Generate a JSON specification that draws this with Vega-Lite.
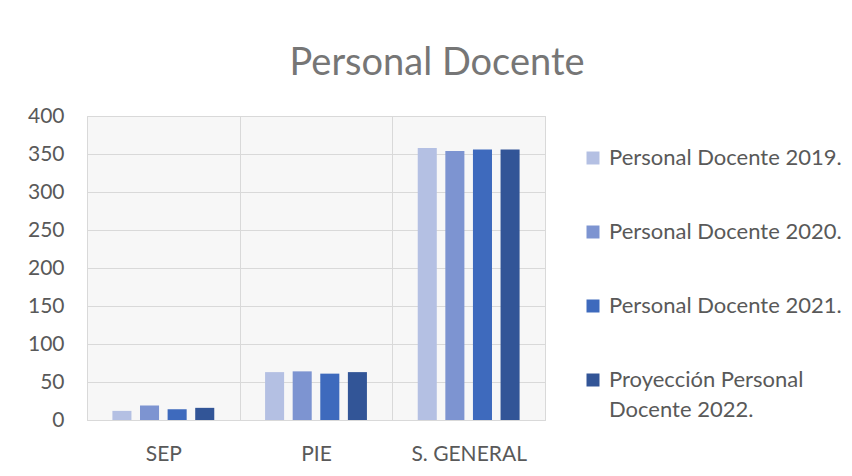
{
  "$schema": "https://vega.github.io/schema/vega-lite/v6.json",
  "width": 458,
  "height": 304,
  "autosize": "none",
  "padding": {"left": 87, "top": 116, "right": 307, "bottom": 56},
  "background": "white",
  "title": {
    "text": "Personal Docente",
    "anchor": "middle",
    "frame": "group",
    "dx": 121,
    "offset": -8,
    "baseline": "alphabetic",
    "font": "Lato",
    "fontSize": 38,
    "fontWeight": "normal",
    "color": "#767676"
  },
  "config": {
    "view": {"stroke": "#d9d9d9", "fill": "#f7f7f7"},
    "font": "Lato",
    "style": {"guide-label": {"lineHeight": 30}}
  },
  "data": {
    "values": [
      {"categoria": "SEP", "serie": "Personal Docente 2019.", "valor": 12},
      {"categoria": "SEP", "serie": "Personal Docente 2020.", "valor": 19},
      {"categoria": "SEP", "serie": "Personal Docente 2021.", "valor": 14},
      {"categoria": "SEP", "serie": "Proyección Personal Docente 2022.", "valor": 16},
      {"categoria": "PIE", "serie": "Personal Docente 2019.", "valor": 63},
      {"categoria": "PIE", "serie": "Personal Docente 2020.", "valor": 64},
      {"categoria": "PIE", "serie": "Personal Docente 2021.", "valor": 61},
      {"categoria": "PIE", "serie": "Proyección Personal Docente 2022.", "valor": 63},
      {"categoria": "S. GENERAL", "serie": "Personal Docente 2019.", "valor": 358},
      {"categoria": "S. GENERAL", "serie": "Personal Docente 2020.", "valor": 354},
      {"categoria": "S. GENERAL", "serie": "Personal Docente 2021.", "valor": 356},
      {"categoria": "S. GENERAL", "serie": "Proyección Personal Docente 2022.", "valor": 356}
    ]
  },
  "mark": {"type": "bar"},
  "encoding": {
    "x": {
      "field": "categoria",
      "type": "nominal",
      "sort": ["SEP", "PIE", "S. GENERAL"],
      "scale": {"paddingInner": 0, "paddingOuter": 0},
      "axis": {
        "title": null,
        "labelAngle": 0,
        "ticks": false,
        "tickBand": "extent",
        "grid": true,
        "gridColor": "#d9d9d9",
        "domainColor": "#d9d9d9",
        "labelFontSize": 21,
        "labelColor": "#595959",
        "labelPadding": 23,
        "labelFont": "Lato"
      }
    },
    "xOffset": {
      "field": "serie",
      "type": "nominal",
      "sort": ["Personal Docente 2019.", "Personal Docente 2020.", "Personal Docente 2021.", "Proyección Personal Docente 2022."],
      "scale": {"paddingInner": 0.31, "paddingOuter": 0.92}
    },
    "y": {
      "field": "valor",
      "type": "quantitative",
      "scale": {"domain": [0, 400], "nice": false},
      "axis": {
        "title": null,
        "values": [0, 50, 100, 150, 200, 250, 300, 350, 400],
        "domain": false,
        "ticks": false,
        "gridColor": "#d9d9d9",
        "labelFontSize": 21,
        "labelColor": "#595959",
        "labelPadding": 23,
        "labelFont": "Lato"
      }
    },
    "color": {
      "field": "serie",
      "type": "nominal",
      "sort": ["Personal Docente 2019.", "Personal Docente 2020.", "Personal Docente 2021.", "Proyección Personal Docente 2022."],
      "scale": {
        "domain": ["Personal Docente 2019.", "Personal Docente 2020.", "Personal Docente 2021.", "Proyección Personal Docente 2022."],
        "range": ["#b4c0e3", "#7d94d1", "#3e6abd", "#325597"]
      },
      "legend": {
        "title": null,
        "orient": "none",
        "legendX": 495,
        "legendY": 31,
        "padding": 0,
        "symbolType": "square",
        "symbolSize": 169,
        "symbolStrokeWidth": 0,
        "symbolOpacity": 1,
        "labelFontSize": 22,
        "labelFont": "Lato",
        "labelColor": "#595959",
        "labelOffset": 5,
        "labelLimit": 400,
        "rowPadding": 52,
        "labelExpr": "datum.label == 'Proyección Personal Docente 2022.' ? ['Proyección Personal', 'Docente 2022.'] : datum.label"
      }
    }
  }
}
